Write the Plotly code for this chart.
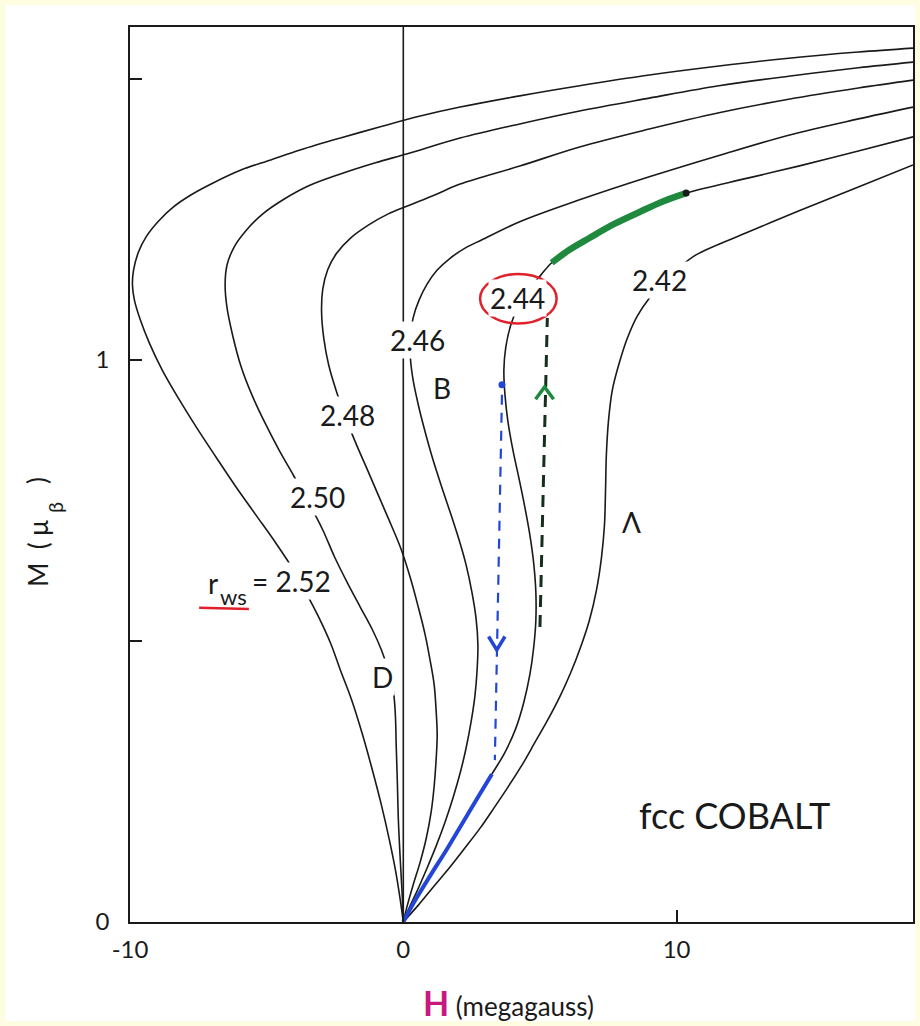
import plotly.graph_objects as go

# ---------------- data (H in megagauss, M in Bohr magnetons) ----------------
r_ws_labels = ["2.52", "2.50", "2.48", "2.46", "2.44", "2.42"]

H_252 = [0, -0.11, -0.29, -0.51, -0.80, -1.13, -1.49, -1.89, -2.30, -2.66, -3.10, -3.57, -4.01,
         -4.66, -5.39, -6.12, -6.85, -7.58, -8.23, -8.82, -9.29, -9.62, -9.84, -9.91, -9.87,
         -9.69, -9.40, -8.96, -8.42, -7.76, -6.96, -5.94, -4.85, -3.75, -2.30, -0.84, 0.62, 2.08,
         4.26, 6.45, 9.00, 11.55, 14.10, 16.65, 18.65]
M_252 = [0, 0.039, 0.093, 0.146, 0.208, 0.270, 0.333, 0.395, 0.448, 0.496, 0.543, 0.587, 0.626,
         0.674, 0.724, 0.774, 0.827, 0.881, 0.932, 0.982, 1.030, 1.071, 1.107, 1.133, 1.160,
         1.192, 1.220, 1.247, 1.272, 1.294, 1.315, 1.338, 1.356, 1.374, 1.395, 1.415, 1.434, 1.450,
         1.470, 1.488, 1.507, 1.523, 1.537, 1.548, 1.555]

H_250 = [0, -0.04, -0.11, -0.18, -0.22, -0.26, -0.29, -0.36, -0.55, -0.80, -1.13, -1.57, -2.04,
         -2.51, -2.95, -3.46, -4.01, -4.55, -5.06, -5.54, -5.94, -6.23, -6.45, -6.52, -6.45,
         -6.19, -5.76, -5.14, -4.37, -3.46, -2.30, -1.02, 0.15, 2.08, 4.26, 6.45, 9.00, 11.55,
         14.10, 16.65, 18.65]
M_250 = [0, 0.048, 0.110, 0.181, 0.253, 0.315, 0.368, 0.409, 0.448, 0.484, 0.520, 0.560, 0.603,
         0.649, 0.698, 0.746, 0.794, 0.840, 0.888, 0.938, 0.989, 1.041, 1.093, 1.133, 1.169,
         1.201, 1.230, 1.260, 1.286, 1.310, 1.331, 1.351, 1.367, 1.395, 1.420, 1.443, 1.466,
         1.488, 1.505, 1.520, 1.530]

H_248 = [0, 0.15, 0.36, 0.62, 0.84, 1.02, 1.13, 1.20, 1.24, 1.20, 1.13, 0.98, 0.80, 0.55, 0.26,
         -0.07, -0.44, -0.84, -1.28, -1.71, -2.11, -2.44, -2.73, -2.91, -2.99, -2.95, -2.77,
         -2.44, -1.93, -1.28, -0.55, 0.15, 1.17, 2.08, 4.26, 6.45, 9.00, 11.55, 14.10, 16.65,
         18.65]
M_248 = [0, 0.030, 0.066, 0.107, 0.149, 0.196, 0.242, 0.288, 0.333, 0.377, 0.422, 0.466, 0.511,
         0.560, 0.612, 0.662, 0.706, 0.751, 0.801, 0.849, 0.897, 0.943, 0.991, 1.039, 1.085,
         1.125, 1.160, 1.190, 1.217, 1.240, 1.260, 1.274, 1.294, 1.313, 1.345, 1.379, 1.411,
         1.440, 1.464, 1.484, 1.498]

H_246 = [0, 0.26, 0.55, 0.87, 1.20, 1.53, 1.82, 2.08, 2.30, 2.48, 2.62, 2.70, 2.73, 2.66, 2.51,
         2.30, 2.04, 1.75, 1.42, 1.09, 0.80, 0.55, 0.36, 0.26, 0.26, 0.36, 0.58, 0.87, 1.24, 1.71,
         2.26, 2.88, 4.26, 6.45, 9.00, 11.55, 14.10, 16.65, 18.65]
M_246 = [0, 0.030, 0.060, 0.096, 0.135, 0.178, 0.221, 0.265, 0.310, 0.356, 0.402, 0.448, 0.493,
         0.541, 0.587, 0.635, 0.680, 0.724, 0.772, 0.822, 0.872, 0.920, 0.964, 1.004, 1.039,
         1.075, 1.107, 1.135, 1.160, 1.181, 1.199, 1.214, 1.246, 1.285, 1.326, 1.364, 1.400,
         1.429, 1.450]

H_244 = [0, 0.44, 0.98, 1.60, 2.19, 2.73, 3.24, 3.72, 4.12, 4.41, 4.63, 4.77, 4.85, 4.85, 4.77,
         4.63, 4.44, 4.23, 4.01, 3.83, 3.72, 3.68, 3.75, 3.93, 4.23, 4.63, 5.03, 5.43, 6.08, 6.81,
         7.72, 8.63, 9.54, 10.35, 12.64, 14.46, 16.65, 18.65]
M_244 = [0, 0.039, 0.082, 0.130, 0.178, 0.222, 0.263, 0.302, 0.345, 0.391, 0.440, 0.488, 0.537,
         0.587, 0.639, 0.689, 0.740, 0.790, 0.840, 0.890, 0.938, 0.982, 1.023, 1.062, 1.098,
         1.128, 1.151, 1.173, 1.196, 1.217, 1.242, 1.263, 1.283, 1.297, 1.324, 1.345, 1.372,
         1.397]

H_242 = [0, 0.55, 1.09, 1.68, 2.26, 2.81, 3.32, 3.83, 4.34, 4.81, 5.28, 5.72, 6.12, 6.48, 6.81,
         7.07, 7.25, 7.36, 7.40, 7.43, 7.51, 7.65, 7.91, 8.20, 8.56, 9.00, 9.54, 10.09, 10.71,
         12.64, 14.46, 16.65, 18.65]
M_242 = [0, 0.030, 0.062, 0.096, 0.132, 0.167, 0.203, 0.240, 0.279, 0.319, 0.359, 0.400, 0.443,
         0.488, 0.537, 0.591, 0.648, 0.706, 0.769, 0.831, 0.893, 0.947, 0.996, 1.039, 1.078,
         1.110, 1.139, 1.164, 1.187, 1.228, 1.265, 1.308, 1.347]

curves_H = [H_252, H_250, H_248, H_246, H_244, H_242]
curves_M = [M_252, M_250, M_248, M_246, M_244, M_242]

# jumps (hysteresis) on the 2.44 curve
jump_up_H = [5.00, 5.27]        # green dashed, upward
jump_up_M = [0.525, 1.075]
jump_down_H = [3.61, 3.35]      # blue dashed, downward
jump_down_M = [0.938, 0.288]
green_H_range = [5.43, 10.35]   # highlighted upper branch
blue_M_max = 0.263              # highlighted lower branch
arrow_up_pt = (5.17, 0.952)
arrow_down_pt = (3.42, 0.484)
blue_dot_pt = (3.61, 0.956)

# axes
x_range = [-10, 18.65]
y_range = [0, 1.5925]
x_ticks = [-10, 0, 10]
x_ticktext = ["-10", "0", "10"]
y_ticks = [0, 1]
y_ticktext = ["0", "1"]
y_minor_ticks = [0.5, 1.5]

# text labels placed on curves (H, M)
curve_labels = [
    ("2.50", -3.13, 0.756),
    ("2.48", -2.04, 0.902),
    ("2.46", 0.51, 1.036),
    ("2.44", 4.19, 1.110),
    ("2.42", 9.36, 1.142),
    ("B", 1.42, 0.950),
    ("D", -0.77, 0.436),
    ("Λ", 8.34, 0.712),
]

# ---------------- figure ----------------
BLACK = "#1a1a1a"
GREEN = "#1f8a3e"
BLUE = "#2446d6"
FONT = "Lato"
SPL = dict(shape="spline", smoothing=1.0)

fig = go.Figure()

# H = 0 vertical line
fig.add_trace(go.Scatter(x=[0, 0], y=[0, y_range[1]], mode="lines",
                         line=dict(color=BLACK, width=1.6), hoverinfo="skip"))

for name, hx, my in zip(r_ws_labels, curves_H, curves_M):
    fig.add_trace(go.Scatter(x=hx, y=my, mode="lines", name=name,
                             line=dict(color=BLACK, width=1.6, **SPL), hoverinfo="skip"))

# highlighted branches on 2.44 curve
sel = [(h, m) for h, m in zip(H_244, M_244)
       if green_H_range[0] <= h <= green_H_range[1] and m > 1.1]
gH, gM = [p[0] for p in sel], [p[1] for p in sel]
fig.add_trace(go.Scatter(x=gH, y=gM, mode="lines",
                         line=dict(color=GREEN, width=6.5, **SPL), hoverinfo="skip"))
fig.add_trace(go.Scatter(x=[gH[-1]], y=[gM[-1]], mode="markers",
                         marker=dict(color=BLACK, size=7), hoverinfo="skip"))

selb = [(h, m) for h, m in zip(H_244, M_244) if m <= blue_M_max]
bH, bM = [p[0] for p in selb], [p[1] for p in selb]
fig.add_trace(go.Scatter(x=bH, y=bM, mode="lines",
                         line=dict(color=BLUE, width=4, **SPL), hoverinfo="skip"))

# dashed jump lines
fig.add_trace(go.Scatter(x=jump_up_H, y=jump_up_M, mode="lines",
                         line=dict(color="#14301c", width=3, dash="12px,8px"), hoverinfo="skip"))
fig.add_trace(go.Scatter(x=jump_down_H, y=jump_down_M, mode="lines",
                         line=dict(color=BLUE, width=2.2, dash="10px,8px"), hoverinfo="skip"))

# arrow heads (chevrons) and dot
ax, ay = arrow_up_pt
fig.add_trace(go.Scatter(x=[ax - 0.33, ax, ax + 0.33], y=[ay - 0.022, ay, ay - 0.022],
                         mode="lines", line=dict(color=GREEN, width=3.5), hoverinfo="skip"))
bx, by = arrow_down_pt
fig.add_trace(go.Scatter(x=[bx - 0.30, bx, bx + 0.30], y=[by + 0.024, by, by + 0.024],
                         mode="lines", line=dict(color=BLUE, width=3.5), hoverinfo="skip"))
fig.add_trace(go.Scatter(x=[blue_dot_pt[0]], y=[blue_dot_pt[1]], mode="markers",
                         marker=dict(color=BLUE, size=7), hoverinfo="skip"))

annotations = []
for txt, hx, my in curve_labels:
    annotations.append(dict(x=hx, y=my, text=txt, showarrow=False, xref="x", yref="y",
                            xanchor="center", yanchor="middle",
                            font=dict(family=FONT, size=28, color=BLACK),
                            bgcolor="white", borderpad=1))

# r_ws = 2.52 (subscript set as its own smaller text)
annotations.append(dict(x=-2.59, y=0.607, text="= 2.52", showarrow=False, xref="x", yref="y",
                        xanchor="right", yanchor="middle",
                        font=dict(family=FONT, size=28, color=BLACK), bgcolor="white"))
annotations.append(dict(x=-6.95, y=0.603, text="r", showarrow=False, xref="x", yref="y",
                        xanchor="center", yanchor="middle",
                        font=dict(family=FONT, size=28, color=BLACK)))
annotations.append(dict(x=-6.20, y=0.579, text="ws", showarrow=False, xref="x", yref="y",
                        xanchor="center", yanchor="middle",
                        font=dict(family=FONT, size=22, color=BLACK)))

annotations.append(dict(x=12.13, y=0.190, text="fcc COBALT", showarrow=False, xref="x", yref="y",
                        xanchor="center", yanchor="middle",
                        font=dict(family=FONT, size=36, color=BLACK)))

# y-axis title M (mu_beta), rotated, built from pieces
annotations.append(dict(x=-0.1185, y=0.4117, xref="paper", yref="paper",
                        text="M\u00a0\u00a0(\u00a0μ", showarrow=False, textangle=-90,
                        xanchor="center", yanchor="middle",
                        font=dict(family=FONT, size=26, color=BLACK)))
annotations.append(dict(x=-0.0965, y=0.4630, xref="paper", yref="paper",
                        text="β", showarrow=False, textangle=-90,
                        xanchor="center", yanchor="middle",
                        font=dict(family=FONT, size=20, color=BLACK)))
annotations.append(dict(x=-0.1185, y=0.4930, xref="paper", yref="paper",
                        text=")", showarrow=False, textangle=-90,
                        xanchor="center", yanchor="middle",
                        font=dict(family=FONT, size=26, color=BLACK)))

annotations.append(dict(x=0.484, y=-0.0894, xref="paper", yref="paper",
                        text="<span style='color:#c8177e;font-size:34px'><b>H</b></span> (megagauss)",
                        showarrow=False, xanchor="center", yanchor="middle",
                        font=dict(family=FONT, size=26, color=BLACK)))

shapes = [
    # page background (white sheet on yellow border)
    dict(type="rect", xref="paper", yref="paper", x0=-0.159, x1=1.0025, y0=-0.1106, y1=1.0246,
         fillcolor="white", line=dict(width=0), layer="below"),
    # red ellipse around 2.44
    dict(type="circle", xref="x", yref="y", x0=2.81, x1=5.61, y0=1.065, y1=1.153,
         line=dict(color="#e0202a", width=2.5), layer="above"),
    # red underline under r_ws
    dict(type="line", xref="x", yref="y", x0=-7.47, x1=-5.65, y0=0.559, y1=0.557,
         line=dict(color="#e0202a", width=2.5), layer="above"),
]

fig.update_layout(
    width=920, height=1026,
    margin=dict(l=130, r=5, t=27, b=104),
    paper_bgcolor="#fffde1",
    plot_bgcolor="white",
    showlegend=False,
    annotations=annotations,
    shapes=shapes,
    font=dict(family=FONT, color=BLACK),
)
fig.update_xaxes(range=x_range, tickvals=x_ticks, ticktext=x_ticktext, ticks="inside",
                 ticklen=12, tickwidth=1.6, tickcolor=BLACK, showgrid=False, zeroline=False,
                 showline=True, linecolor=BLACK, linewidth=1.8, mirror=True,
                 tickfont=dict(family=FONT, size=24, color=BLACK), ticklabelstandoff=5)
fig.update_yaxes(range=y_range, tickvals=y_ticks, ticktext=y_ticktext, ticks="inside",
                 ticklen=12, tickwidth=1.6, tickcolor=BLACK, showgrid=False, zeroline=False,
                 showline=True, linecolor=BLACK, linewidth=1.8, mirror=True,
                 minor=dict(tickvals=y_minor_ticks, ticks="inside", ticklen=12, tickwidth=1.6,
                            tickcolor=BLACK, showgrid=False),
                 tickfont=dict(family=FONT, size=24, color=BLACK), ticklabelstandoff=14)

fig.write_html("out.html", config={"displayModeBar": False},
               post_script="document.body.style.margin='0';")
